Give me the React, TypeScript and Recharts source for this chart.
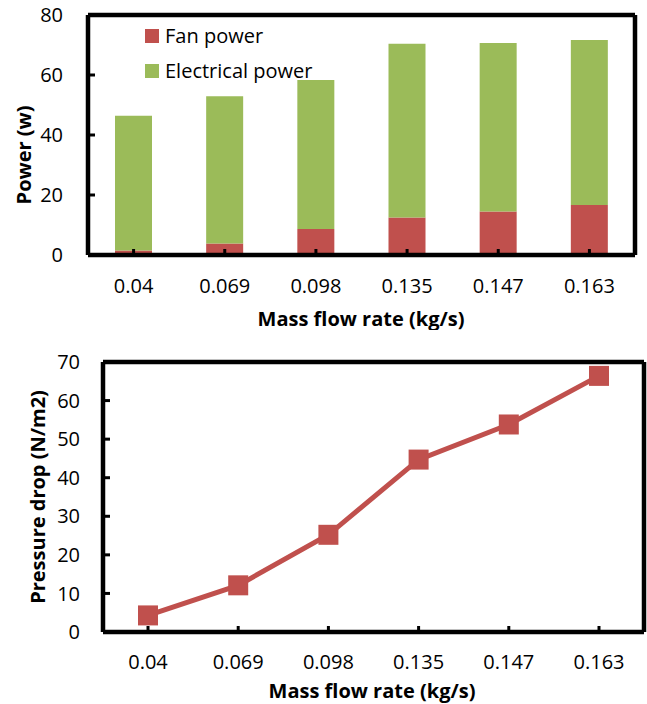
import React from "react";
import {
  Bar,
  BarChart,
  Legend,
  Line,
  LineChart,
  XAxis,
  YAxis,
} from "recharts";

const massFlow = ["0.04", "0.069", "0.098", "0.135", "0.147", "0.163"];
const fanPower = [1.5, 3.8, 8.7, 12.5, 14.5, 16.7];
const electricalPower = [44.9, 49.1, 49.6, 57.9, 56.2, 55.0];
const pressureDrop = [4.3, 12.1, 25.2, 44.7, 53.8, 66.4];
const powerTicks = [0, 20, 40, 60, 80];
const pressureTicks = [0, 10, 20, 30, 40, 50, 60, 70];
const legendOrder = ["fan", "elec"];

const RED = "#C0504D";
const GREEN = "#9BBB59";
const FONT = "'Open Sans', sans-serif";

const powerData = massFlow.map((m, i) => ({
  m,
  fan: fanPower[i],
  elec: electricalPower[i],
}));
const pressureData = massFlow.map((m, i) => ({ m, dp: pressureDrop[i] }));

const tickStyle = () => ({ fill: "#000", stroke: "none", fontSize: 20, fontFamily: FONT });
const axisLine = () => ({ stroke: "#000", strokeWidth: 4.5 });
const tickLine = () => ({ stroke: "#000", strokeWidth: 3 });

const axisTitle = (text: string, x: number, y: number, rotate = false) => () =>
  (
    <text
      x={x}
      y={y}
      textAnchor="middle"
      dominantBaseline="central"
      transform={rotate ? `rotate(-90 ${x} ${y})` : undefined}
      style={{ fontFamily: FONT, fontSize: 20, fontWeight: 700, fill: "#000", stroke: "none" }}
    >
      {text}
    </text>
  );

const PowerLegend = ({ payload }: any) => {
  const items = [...(payload || [])].sort(
    (a: any, b: any) => legendOrder.indexOf(a.dataKey) - legendOrder.indexOf(b.dataKey)
  );
  return (
    <div style={{ fontFamily: FONT, fontSize: 20, color: "#000", lineHeight: "20px" }}>
      {items.map((p: any) => (
        <div key={p.value} style={{ display: "flex", alignItems: "center", height: 35 }}>
          <span
            style={{
              width: 14,
              height: 14,
              background: p.color,
              display: "inline-block",
              marginRight: 6,
            }}
          />
          {p.value}
        </div>
      ))}
    </div>
  );
};

const SquareDot = (props: any) => {
  const { cx, cy } = props;
  if (cx == null || cy == null) return null;
  return <rect x={cx - 10} y={cy - 10} width={20} height={20} fill={RED} />;
};

export default function App() {
  return (
    <div style={{ position: "absolute", left: 0, top: 0, width: 647, height: 704, background: "#fff" }}>
      <BarChart
        width={647}
        height={330}
        data={powerData}
        margin={{ top: 14, right: 11, bottom: 0, left: 0 }}
        barSize={37}
      >
        <XAxis
          dataKey="m"
          stroke="#000"
          strokeWidth={4.5}
          axisLine={axisLine()}
          tickLine={tickLine()}
          tickSize={-6}
          tickMargin={30}
          tick={tickStyle()}
          height={75}
          label={axisTitle("Mass flow rate (kg/s)", 361, 318)}
        />
        <XAxis xAxisId="top" dataKey="m" orientation="top" height={1} stroke="#000" strokeWidth={4.5} axisLine={axisLine()} tick={false} tickLine={false} />
        <YAxis
          domain={[0, 80]}
          ticks={powerTicks}
          stroke="#000"
          strokeWidth={4.5}
          axisLine={axisLine()}
          tickLine={tickLine()}
          tickSize={-7}
          tickMargin={32}
          tick={tickStyle()}
          width={88}
          label={axisTitle("Power (w)", 23, 155, true)}
        />
        <YAxis yAxisId="right" orientation="right" domain={[0, 80]} width={1} stroke="#000" strokeWidth={4.5} axisLine={axisLine()} tick={false} tickLine={false} />
        <Legend
          layout="vertical"
          verticalAlign="middle"
          align="center"
          content={<PowerLegend />}
          wrapperStyle={{ left: 145, top: 18, width: 220 }}
        />
        <Bar dataKey="fan" name="Fan power" stackId="p" fill={RED} isAnimationActive={false} />
        <Bar dataKey="elec" name="Electrical power" stackId="p" fill={GREEN} isAnimationActive={false} />
      </BarChart>
      <LineChart
        width={647}
        height={374}
        data={pressureData}
        margin={{ top: 31, right: 2, bottom: 0, left: 0 }}
      >
        <XAxis
          dataKey="m"
          stroke="#000"
          strokeWidth={4.5}
          axisLine={axisLine()}
          tickLine={tickLine()}
          tickSize={-6}
          tickMargin={29}
          tick={tickStyle()}
          height={72}
          padding={{ left: 45, right: 45 }}
          label={axisTitle("Mass flow rate (kg/s)", 372, 360)}
        />
        <XAxis xAxisId="top" dataKey="m" orientation="top" height={1} stroke="#000" strokeWidth={4.5} axisLine={axisLine()} tick={false} tickLine={false} />
        <YAxis
          domain={[0, 70]}
          ticks={pressureTicks}
          stroke="#000"
          strokeWidth={4.5}
          axisLine={axisLine()}
          tickLine={tickLine()}
          tickSize={-7}
          tickMargin={30}
          tick={tickStyle()}
          width={103}
          label={axisTitle("Pressure drop (N/m2)", 37, 167, true)}
        />
        <YAxis yAxisId="right" orientation="right" domain={[0, 70]} width={1} stroke="#000" strokeWidth={4.5} axisLine={axisLine()} tick={false} tickLine={false} />
        <Line
          dataKey="dp"
          stroke={RED}
          strokeWidth={5}
          dot={<SquareDot />}
          activeDot={false}
          isAnimationActive={false}
        />
      </LineChart>
    </div>
  );
}
